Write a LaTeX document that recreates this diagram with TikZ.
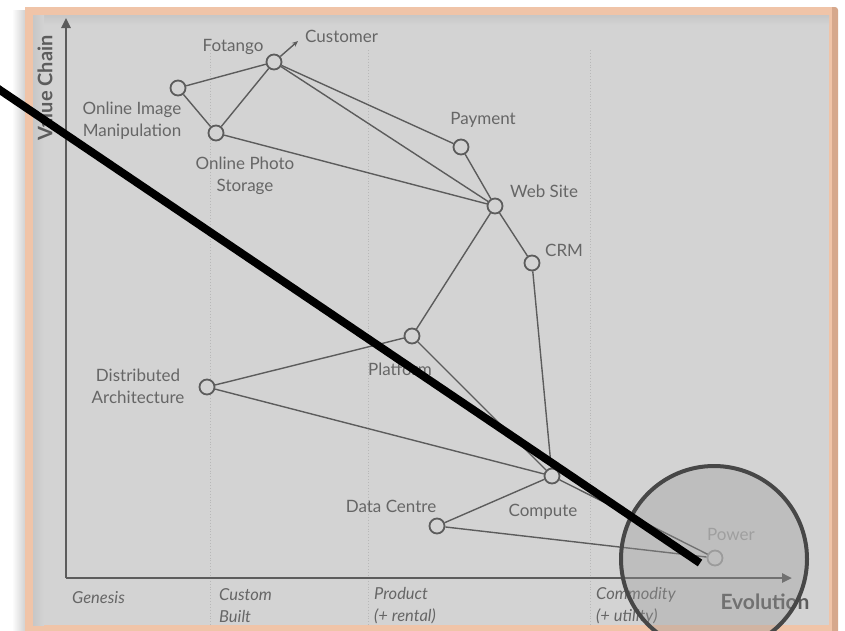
\documentclass[tikz,border=0pt]{standalone}
\usepackage{fontspec}
\setmainfont{Lato}
\usetikzlibrary{arrows.meta}
\definecolor{panelgrey}{HTML}{D3D3D3}
\definecolor{framelight}{HTML}{F0C4A8}
\definecolor{framedark}{HTML}{D6A88C}
\definecolor{inkgrey}{HTML}{5C5C5C}
\definecolor{textgrey}{HTML}{666666}
\definecolor{gridgrey}{HTML}{B8B8B8}
\tikzset{
  comp/.style={circle, draw=inkgrey, line width=1.8pt, fill=panelgrey,
    minimum size=15pt, inner sep=0pt},
  link/.style={draw=inkgrey, line width=1.4pt},
  lbl/.style={text=textgrey, font=\fontsize{17}{22}\selectfont, align=center, inner sep=0pt},
  stage/.style={text=textgrey, font=\fontsize{16.5}{22}\selectfont\itshape, align=left, inner sep=0pt, anchor=west},
  axis/.style={draw=inkgrey, line width=2.4pt, -{Triangle[length=10pt,width=9pt]}},
  grid/.style={draw=gridgrey, line width=0.9pt, dotted},
}
\begin{document}
\begin{tikzpicture}[x=1pt,y=-1pt]
\useasboundingbox (0,0) rectangle (845,630);
% page and soft shadow left of the frame
\fill[white] (0,0) rectangle (845,630);
\shade[left color=white, right color=black!18] (12,10) rectangle (25,630);
% frame
\fill[framedark, rounded corners=3pt] (25,7) rectangle (838,640);
\fill[framelight] (25,7) rectangle (832,636);
\fill[panelgrey] (33,15) rectangle (829,625);
\shade[top color=black!22, bottom color=panelgrey] (33,15) rectangle (829,25);
\shade[left color=black!22, right color=panelgrey] (33,15) rectangle (44,625);

% evolution stage separators
\draw[grid] (210,50) -- (210,625);
\draw[grid] (368,50) -- (368,625);
\draw[grid] (590,50) -- (590,625);

% axes
\coordinate (origin) at (66,578);
\coordinate (ytip) at (66,18);
\coordinate (xtip) at (792,578);
\draw[axis] (origin) -- (ytip);
\draw[axis] (origin) -- (xtip);
\node[text=inkgrey, font=\fontsize{20}{20}\selectfont\bfseries, rotate=90, inner sep=0pt] (vchain) at (45,88) {Value Chain};
\node[text=inkgrey, font=\fontsize{21}{21}\selectfont\bfseries, inner sep=0pt] (evo) at (765,602) {Evolution};

% stage labels
\node[stage] (genesis) at (72,598) {Genesis};
\node[stage] (custom) at (219,606) {Custom\\Built};
\node[stage] (product) at (374,606) {Product\\(+ rental)};
\node[stage] (commodity) at (596,606) {Commodity\\(+ utility)};

% components
\node[comp] (oim) at (178,88) {};
\node[comp] (fotango) at (274,62) {};
\node[comp] (ops) at (216,133) {};
\coordinate (customer) at (298,41);
\node[comp] (payment) at (461,147) {};
\node[comp] (web) at (495,206) {};
\node[comp] (crm) at (532,263) {};
\node[comp] (platform) at (412,336) {};
\node[comp] (dist) at (207,387) {};
\node[comp] (compute) at (552,476) {};
\node[comp] (dc) at (437,526) {};
\node[comp, draw=inkgrey!60] (power) at (715,558) {};

% dependencies
\draw[link] (oim) -- (fotango);
\draw[link] (oim) -- (ops);
\draw[link] (fotango) -- (ops);
\draw[link, -{Stealth[length=6pt,width=5pt]}] (fotango) -- (customer);
\draw[link] (fotango) -- (payment);
\draw[link] (fotango) -- (web);
\draw[link] (ops) -- (web);
\draw[link] (payment) -- (web);
\draw[link] (web) -- (crm);
\draw[link] (web) -- (platform);
\draw[link] (crm) -- (compute);
\draw[link] (platform) -- (dist);
\draw[link] (platform) -- (compute);
\draw[link] (dist) -- (compute);
\draw[link] (compute) -- (dc);
\draw[link] (compute) -- (power);
\draw[link] (dc) -- (power);

% component labels
\node[lbl] (lfotango) at (233,47) {Fotango};
\node[lbl, anchor=west] (lcustomer) at (305,36) {Customer};
\node[lbl] (loim) at (132,121) {Online Image\\Manipulation};
\node[lbl] (lops) at (245,176) {Online Photo\\Storage};
\node[lbl] (lpayment) at (483,120) {Payment};
\node[lbl, anchor=west] (lweb) at (510,191) {Web Site};
\node[lbl, anchor=west] (lcrm) at (545,250) {CRM};
\node[lbl] (lplatform) at (400,369) {Platform};
\node[lbl] (ldist) at (138,386) {Distributed\\Architecture};
\node[lbl] (lcompute) at (543,512) {Compute};
\node[lbl] (ldc) at (391,506) {Data Centre};
\node[lbl, text=textgrey!60] (lpower) at (731,534) {Power};

% highlight ring and pointer
\node[circle, minimum size=186pt, draw=black!72, line width=4pt, fill=black!40, fill opacity=0.35] (ring) at (714,559) {};
\coordinate (pstart) at (-6,86);
\coordinate (pend) at (700,563);
\draw[black, line width=8pt] (pstart) -- (pend);
\end{tikzpicture}
\end{document}
